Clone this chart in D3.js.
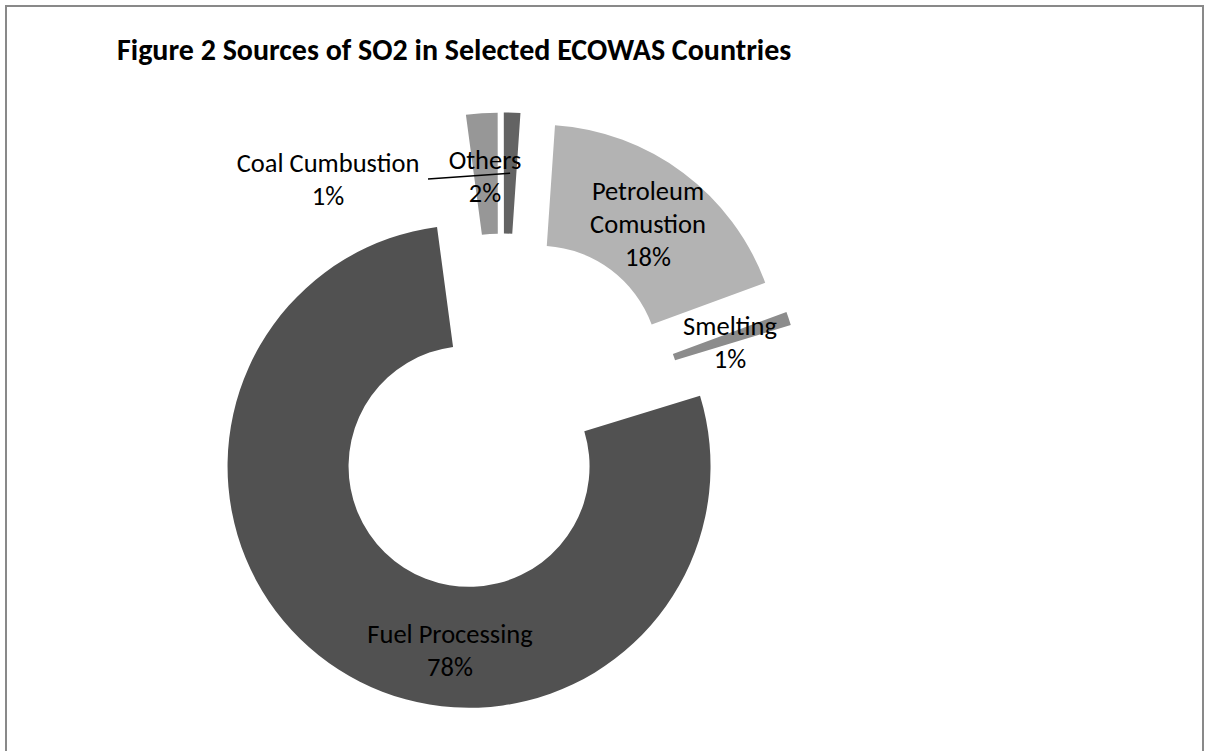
<!DOCTYPE html>
<html>
<head>
<meta charset="utf-8">
<script src="https://cdn.jsdelivr.net/npm/d3@7"></script>
<style>
  body { margin: 0; background: #fff; }
  text { font-family: Carlito, Calibri, Lato, "Open Sans", sans-serif; }
</style>
</head>
<body>
<svg id="chart" width="1206" height="751"></svg>
<script>
// data
const categories = ["Petroleum Comustion", "Smelting", "Fuel Processing", "Others", "Coal Cumbustion"];
const shares = [18.3, 0.9, 77.6, 2.1, 1.1];
const labelLines = [["Petroleum", "Comustion"], ["Smelting"], ["Fuel Processing"], ["Others"], ["Coal Cumbustion"]];
const colors = ["#b3b3b3", "#8c8c8c", "#515151", "#979797", "#636363"];

// label block centres, relative to the doughnut centre
const labelOffsets = [[146, -191], [228, -73], [-52, 235], [-17, -239], [-174, -236]];

const W = 1206, H = 751;
const cx = 502, cy = 415;
const outerR = 241.5, innerR = 120.5;
const explode = 61;
const lineH = 33;

const svg = d3.select('#chart');

svg.append('rect')
  .attr('x', 6).attr('y', 6)
  .attr('width', 1197).attr('height', 780)
  .attr('fill', 'none')
  .attr('stroke', '#898989')
  .attr('stroke-width', 2);

svg.append('text')
  .attr('x', 117).attr('y', 60)
  .attr('font-size', 30)
  .attr('font-weight', 'bold')
  .text('Figure 2 Sources of SO2 in Selected ECOWAS Countries');

const start = 3.9 * Math.PI / 180;
const pie = d3.pie().sort(null).value(d => d)
  .startAngle(start).endAngle(start + 2 * Math.PI);
const arcs = pie(shares);

const arc = d3.arc().innerRadius(innerR).outerRadius(outerR);

const g = svg.append('g').attr('transform', `translate(${cx},${cy})`);

function shift(d) {
  const mid = (d.startAngle + d.endAngle) / 2;
  return [Math.sin(mid) * explode, -Math.cos(mid) * explode];
}

g.selectAll('path.slice')
  .data(arcs)
  .enter()
  .append('path')
  .attr('class', 'slice')
  .attr('transform', d => `translate(${shift(d)})`)
  .attr('fill', (d, i) => colors[i])
  .attr('d', arc);

const total = d3.sum(shares);

// leader line for the coal slice
const coal = arcs[4];
const [sx, sy] = shift(coal);
const [ax, ay] = arc.centroid(coal);
const lo = labelOffsets[4];
g.append('line')
  .attr('x1', lo[0] + 100).attr('y1', lo[1] + 0)
  .attr('x2', ax + sx).attr('y2', ay + sy)
  .attr('stroke', '#000')
  .attr('stroke-width', 1.5);

arcs.forEach((d, i) => {
  const lines = labelLines[i].concat([Math.round(d.data / total * 100) + '%']);
  const [ox, oy] = labelOffsets[i];
  const top = oy - (lines.length - 1) * lineH / 2;
  const t = g.append('text')
    .attr('text-anchor', 'middle')
    .attr('font-size', 26.5)
    .attr('fill', '#000');
  lines.forEach((s, k) => {
    t.append('tspan')
      .attr('x', ox)
      .attr('y', top + k * lineH)
      .attr('dy', '0.35em')
      .text(s);
  });
});
</script>
</body>
</html>
